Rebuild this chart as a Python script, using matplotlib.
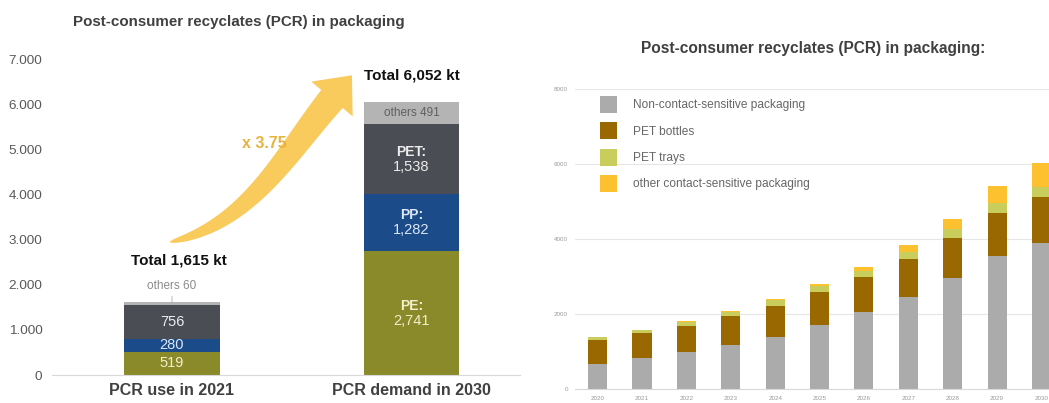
import numpy as np
import matplotlib
matplotlib.use('Agg')
import matplotlib.pyplot as plt
from matplotlib.patches import Polygon, Patch

plt.rcParams['font.family'] = ['Liberation Sans', 'DejaVu Sans']

# left chart: PCR by polymer, kt
groups = ['PCR use in 2021', 'PCR demand in 2030']
pe = [519, 2741]
pp = [280, 1282]
pet = [756, 1538]
others = [60, 491]

# right chart: PCR by packaging type, kt
years = [2020, 2021, 2022, 2023, 2024, 2025, 2026, 2027, 2028, 2029, 2030]
non_contact = [670, 820, 980, 1175, 1400, 1695, 2050, 2450, 2950, 3535, 3890]
pet_bottles = [640, 670, 710, 775, 825, 885, 930, 1010, 1080, 1155, 1225]
pet_trays = [75, 80, 105, 115, 160, 160, 160, 190, 240, 265, 265]
other_contact = [10, 10, 15, 15, 20, 65, 110, 195, 270, 470, 650]

W, H = 1049, 403
fig = plt.figure(figsize=(W / 100, H / 100), dpi=100)


def px(x0, y_top, x1, y_bot):
    # pixel box -> figure fraction rect
    return [x0 / W, 1 - y_bot / H, (x1 - x0) / W, (y_bot - y_top) / H]


# ---------------- left chart ----------------
ax = fig.add_axes(px(52, 59.6, 520, 375))
x = np.arange(len(groups))
bw = 0.4
c_pe, c_pp, c_pet, c_oth = '#8a8a2a', '#1c4b8a', '#4a4d53', '#b4b4b4'

b = np.zeros(2)
ax.bar(x, pe, bw, bottom=b, color=c_pe)
b += pe
ax.bar(x, pp, bw, bottom=b, color=c_pp)
b += pp
ax.bar(x, pet, bw, bottom=b, color=c_pet)
b += pet
ax.bar(x, others, bw, bottom=b, color=c_oth)
b += others
totals = b

ax.set_xlim(-0.501, 1.453)
ax.set_ylim(0, 7000)
ax.set_yticks(np.arange(0, 7001, 1000))
ax.set_yticklabels([f'{v:,}'.replace(',', '.') for v in range(0, 7001, 1000)])
ax.set_xticks(x)
ax.set_xticklabels(groups, fontsize=11.5, fontweight='bold', color='#404040')
ax.tick_params(axis='y', length=0, pad=7, labelsize=9.7, labelcolor='#595959')
ax.tick_params(axis='x', length=0, pad=6)
for s in ['top', 'right', 'left']:
    ax.spines[s].set_visible(False)
ax.spines['bottom'].set_color('#d9d9d9')

# 2021 bar: plain numbers
seg_cols = ['#f2f0cc', '#dce6f5', '#ececec']
lo = 0
for val, col in zip([pe[0], pp[0], pet[0]], seg_cols):
    ax.text(0, lo + val / 2, str(val), ha='center', va='center', fontsize=10.5, color=col)
    lo += val
ax.annotate(f'others {others[0]}', xy=(0, totals[0]), xytext=(0, 11.5),
            textcoords='offset points', ha='center', va='center', fontsize=8.5,
            color='#8a8a8a',
            arrowprops=dict(arrowstyle='-', color='#aaaaaa', lw=0.6, shrinkA=1, shrinkB=0))

# 2030 bar: name + value
lo = 0
for name, val, col in zip(['PE:', 'PP:', 'PET:'], [pe[1], pp[1], pet[1]], seg_cols):
    mid = lo + val / 2
    ax.annotate(name, (1, mid), xytext=(0, 5.3), textcoords='offset points',
                ha='center', va='center', fontsize=10, fontweight='bold', color=col)
    ax.annotate(f'{val:,}', (1, mid), xytext=(0, -5.6), textcoords='offset points',
                ha='center', va='center', fontsize=10.5, color=col)
    lo += val
ax.text(1, lo + others[1] / 2, f'others {others[1]}', ha='center', va='center',
        fontsize=8.5, color='#5f5f5f')

ax.annotate(f'Total {int(totals[0]):,} kt', (0, totals[0]), xytext=(5, 30),
            textcoords='offset points', ha='center', va='center',
            fontsize=11, fontweight='bold', color='#111111')
ax.annotate(f'Total {int(totals[1]):,} kt', (1, totals[1]), xytext=(0, 19),
            textcoords='offset points', ha='center', va='center',
            fontsize=11, fontweight='bold', color='#111111')

# growth arrow (pixel coords), tapered shaft along a cubic curve
P = np.array([[170, 242], [250, 225], [287, 152], [332, 99]], float)
t = np.linspace(0, 1, 60)[:, None]
curve = ((1 - t) ** 3 * P[0] + 3 * (1 - t) ** 2 * t * P[1]
         + 3 * (1 - t) * t ** 2 * P[2] + t ** 3 * P[3])
d = np.gradient(curve, axis=0)
d /= np.linalg.norm(d, axis=1)[:, None]
n = np.column_stack([-d[:, 1], d[:, 0]])
w = 0.5 + 13.5 * t[:, 0] ** 0.55
left_edge = curve + n * w[:, None]
right_edge = curve - n * w[:, None]
end, de, ne = curve[-1], d[-1], n[-1]
head = [end + ne * 27, end + de * 31, end - ne * 27]
outline = np.vstack([left_edge, head, right_edge[::-1]])
outline_fig = np.column_stack([outline[:, 0] / W, 1 - outline[:, 1] / H])
fig.patches.append(Polygon(outline_fig, closed=True, transform=fig.transFigure,
                           facecolor='#f9ca5c', edgecolor='none'))

ratio = totals[1] / totals[0]
fig.text(264 / W, 1 - 144 / H, f'x {ratio:.2f}', ha='center', va='center',
         fontsize=11.5, fontweight='bold', color='#e8b23f')

fig.text(73 / W, 1 - 22 / H, 'Post-consumer recyclates (PCR) in packaging',
         ha='left', va='center', fontsize=10.9, fontweight='bold', color='#404040')

# ---------------- right chart ----------------
ax2 = fig.add_axes(px(575, 89, W, 389))
cols2 = ['#ababab', '#9a6800', '#c8cd5c', '#fdc02f']
names2 = ['Non-contact-sensitive packaging', 'PET bottles', 'PET trays',
          'other contact-sensitive packaging']
bottom = np.zeros(len(years))
for vals, col in zip([non_contact, pet_bottles, pet_trays, other_contact], cols2):
    ax2.bar(years, vals, 0.43, bottom=bottom, color=col, zorder=2)
    bottom += vals

ax2.set_xlim(2019.49, 2030.17)
ax2.set_ylim(0, 8000)
ax2.set_yticks([0, 2000, 4000, 6000, 8000])
ax2.set_xticks(years)
ax2.tick_params(length=0, labelsize=4.5, labelcolor='#9a9a9a')
ax2.tick_params(axis='y', pad=5)
ax2.tick_params(axis='x', pad=5)
ax2.grid(axis='y', color='#e6e6e6', lw=0.8, zorder=0)
for s in ['top', 'right', 'left']:
    ax2.spines[s].set_visible(False)
ax2.spines['bottom'].set_color('#d9d9d9')

handles = [Patch(facecolor=c, edgecolor='none') for c in cols2]
ax2.legend(handles, names2, loc='upper left', bbox_to_anchor=(600 / W, 1 - 96 / H),
           bbox_transform=fig.transFigure, frameon=False, fontsize=8.6,
           labelcolor='#666666', handlelength=1.4, handleheight=1.82,
           labelspacing=0.78, handletextpad=1.35, borderpad=0, borderaxespad=0)

fig.text(813 / W, 1 - 48 / H, 'Post-consumer recyclates (PCR) in packaging:',
         ha='center', va='center', fontsize=11.2, fontweight='bold', color='#404040')

fig.savefig('out.png', dpi=100)
